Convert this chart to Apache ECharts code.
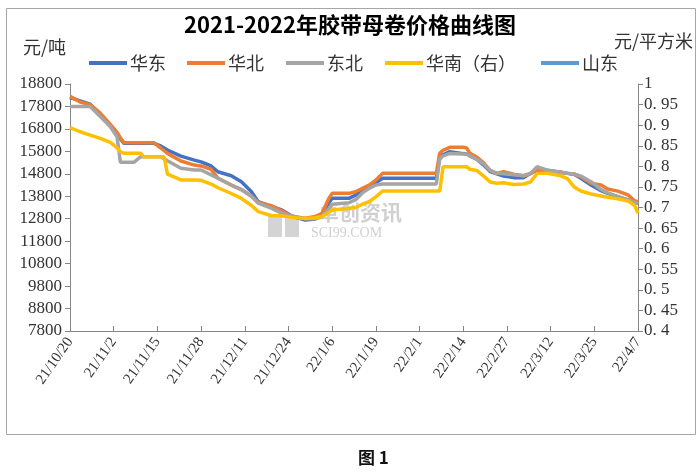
<!DOCTYPE html>
<html>
<head>
<meta charset="utf-8">
<script src="https://cdn.jsdelivr.net/npm/echarts@6/dist/echarts.min.js"></script>
<style>html,body{margin:0;padding:0;background:#fff;}#c{width:700px;height:472px;}</style>
</head>
<body>
<div id="c"></div>
<script>
const dates = ['2021-10-20','2021-10-23','2021-10-26','2021-10-29','2021-11-01','2021-11-03','2021-11-04','2021-11-05','2021-11-08','2021-11-10','2021-11-11','2021-11-14','2021-11-16','2021-11-17','2021-11-18','2021-11-22','2021-11-26','2021-11-28','2021-12-01','2021-12-03','2021-12-07','2021-12-10','2021-12-13','2021-12-15','2021-12-19','2021-12-22','2021-12-25','2021-12-29','2022-01-01','2022-01-03','2022-01-05','2022-01-06','2022-01-11','2022-01-13','2022-01-15','2022-01-17','2022-01-19','2022-01-21','2022-02-06','2022-02-07','2022-02-08','2022-02-10','2022-02-14','2022-02-15','2022-02-16','2022-02-18','2022-02-20','2022-02-22','2022-02-24','2022-02-26','2022-03-01','2022-03-04','2022-03-06','2022-03-08','2022-03-11','2022-03-15','2022-03-17','2022-03-19','2022-03-21','2022-03-24','2022-03-27','2022-03-29','2022-04-01','2022-04-04','2022-04-06','2022-04-07'];
const huadong = [18200,18050,17900,17450,16950,16600,16350,16160,16160,16160,16160,16160,16040,15950,15860,15590,15410,15330,15150,14890,14715,14450,14000,13560,13335,13190,12920,12740,12790,13040,13500,13710,13710,13850,14100,14250,14400,14600,14600,15560,15650,15785,15700,15680,15600,15450,15200,14900,14800,14700,14630,14630,14820,14960,14960,14870,14820,14780,14600,14300,14050,13930,13780,13640,13520,13490];
const huabei = [18250,18000,17880,17500,17000,16650,16400,16200,16180,16180,16180,16180,15950,15830,15710,15370,15190,15150,15000,14600,14300,14100,13800,13530,13380,13150,12900,12820,12900,13040,13700,13930,13930,14000,14150,14300,14520,14820,14820,15710,15850,15980,15980,15950,15710,15550,15300,14950,14820,14890,14780,14715,14800,15010,14920,14870,14830,14780,14670,14380,14300,14120,14030,13860,13600,13560];
const dongbei = [17800,17800,17800,17350,16900,16450,15310,15310,15310,15560,15560,15560,15560,15470,15380,15050,14970,14970,14750,14600,14300,14100,13800,13490,13260,13050,12920,12800,12800,12900,13250,13440,13510,13650,13950,14150,14300,14350,14350,15450,15600,15710,15680,15680,15600,15450,15250,14950,14820,14800,14760,14715,14820,15120,14960,14870,14820,14790,14700,14450,14100,13950,13780,13640,13520,13490];
const huanan = [0.894,0.884,0.876,0.868,0.858,0.845,0.835,0.832,0.832,0.832,0.823,0.823,0.823,0.823,0.781,0.767,0.767,0.766,0.757,0.748,0.734,0.722,0.705,0.690,0.680,0.680,0.676,0.673,0.675,0.678,0.688,0.694,0.698,0.700,0.708,0.714,0.726,0.740,0.740,0.740,0.799,0.799,0.799,0.799,0.793,0.790,0.777,0.762,0.759,0.760,0.756,0.757,0.762,0.783,0.783,0.777,0.770,0.750,0.740,0.733,0.728,0.725,0.721,0.716,0.705,0.686];
const shandong = [];
const xLabels = ['21/10/20','21/11/2','21/11/15','21/11/28','21/12/11','21/12/24','22/1/6','22/1/19','22/2/1','22/2/14','22/2/27','22/3/12','22/3/25','22/4/7'];
const leftTicks = [7800,8800,9800,10800,11800,12800,13800,14800,15800,16800,17800,18800];
const rightTicks = [0.4,0.45,0.5,0.55,0.6,0.65,0.7,0.75,0.8,0.85,0.9,0.95,1];
const seriesNames = ['华东','华北','东北','华南（右）','山东'];
const colors = ['#4472C4','#ED7D31','#A5A5A5','#FFC000','#5B9BD5'];

const t0 = Date.UTC(2021, 9, 20);
function dayIndex(s) {
  const p = s.split('-').map(Number);
  return Math.round((Date.UTC(p[0], p[1] - 1, p[2]) - t0) / 86400000);
}
function pairs(vals) { return vals.map((v, i) => [dayIndex(dates[i]), v]); }
const allData = [huadong, huabei, dongbei, huanan, shandong];

const chart = echarts.init(document.getElementById('c'), null, {renderer: 'canvas'});
const legendLefts = [84, 182, 281, 380, 536];
const serif = '"Liberation Serif", "Noto Sans CJK SC", serif';
const cjk = '"Noto Sans CJK SC", sans-serif';

chart.setOption({
  animation: false,
  backgroundColor: '#fff',
  title: {
    text: '2021-2022年胶带母卷价格曲线图',
    left: 'center', top: 9,
    textStyle: {fontFamily: cjk, fontSize: 22, fontWeight: 'bold', color: '#000'}
  },
  legend: seriesNames.map((n, i) => ({
    data: [n], left: legendLefts[i], top: 49,
    icon: 'rect', itemWidth: 38, itemHeight: 4, itemGap: 4,
    textStyle: {fontFamily: cjk, fontSize: 18, color: '#333', padding: [0,0,0,-2]}
  })),
  grid: {left: 70, right: 62, top: 84, bottom: 141},
  xAxis: {
    type: 'value', min: 0, max: 169, interval: 13,
    axisLine: {show: true, lineStyle: {color: '#868686', width: 1}},
    axisTick: {show: true, inside: true, length: 5, lineStyle: {color: '#868686'}},
    splitLine: {show: false},
    axisLabel: {
      rotate: 55, margin: 8, fontFamily: serif, fontSize: 15, color: '#333',
      formatter: v => xLabels[Math.round(v / 13)] || ''
    }
  },
  yAxis: [{
    type: 'value', min: 7800, max: 18800, position: 'left',
    name: '元/吨', nameLocation: 'end', nameGap: 28,
    nameTextStyle: {fontFamily: cjk, fontSize: 18, color: '#333', align: 'right', padding: [0, 4, 0, 0]},
    axisLine: {show: true, lineStyle: {color: '#868686', width: 1}},
    axisTick: {show: true, length: 5, customValues: leftTicks, lineStyle: {color: '#868686'}},
    splitLine: {show: false},
    axisLabel: {customValues: leftTicks, margin: 8, fontFamily: serif, fontSize: 17, color: '#333',
      formatter: v => String(Math.round(v))}
  }, {
    type: 'value', min: 0.4, max: 1, position: 'right',
    name: '元/平方米', nameLocation: 'end', nameGap: 34,
    nameTextStyle: {fontFamily: cjk, fontSize: 18, color: '#333', align: 'right', padding: [0, -55, 0, 0]},
    axisLine: {show: true, lineStyle: {color: '#868686', width: 1}},
    axisTick: {show: true, length: 5, customValues: rightTicks, lineStyle: {color: '#868686'}},
    splitLine: {show: false},
    axisLabel: {
      customValues: rightTicks, margin: 6, fontFamily: serif, fontSize: 17, color: '#333',
      formatter: v => String(Math.round(v * 100) / 100).replace('.', '. ')
    }
  }],
  graphic: [
    {type: 'rect', left: 4, top: 6, shape: {width: 689, height: 426}, style: {fill: 'none', stroke: '#a6a6a6', lineWidth: 1}, z: -10},
    {type: 'rect', left: 268, top: 216, shape: {width: 14, height: 21}, style: {fill: '#d4d4d4'}, z: -5},
    {type: 'rect', left: 285, top: 216, shape: {width: 14, height: 21}, style: {fill: '#d4d4d4'}, z: -5},
    {type: 'text', left: 318, top: 202, style: {text: '卓创资讯', fill: '#d0d0d0', font: 'bold 21px "Noto Sans CJK SC"'}, z: -5},
    {type: 'text', left: 311, top: 226, style: {text: 'SCI99.COM', fill: '#d0d0d0', font: '14px "Liberation Serif"'}, z: -5},
    {type: 'text', left: 358, top: 449, style: {text: '图 1', fill: '#111', font: 'bold 17px "Noto Sans CJK SC"'}}
  ],
  series: seriesNames.map((n, i) => ({
    name: n, type: 'line', yAxisIndex: i === 3 ? 1 : 0,
    data: pairs(allData[i]), showSymbol: false, symbol: 'none',
    lineStyle: {color: colors[i], width: 3.5}, itemStyle: {color: colors[i]},
    z: 2 + i
  }))
});
</script>
</body>
</html>
